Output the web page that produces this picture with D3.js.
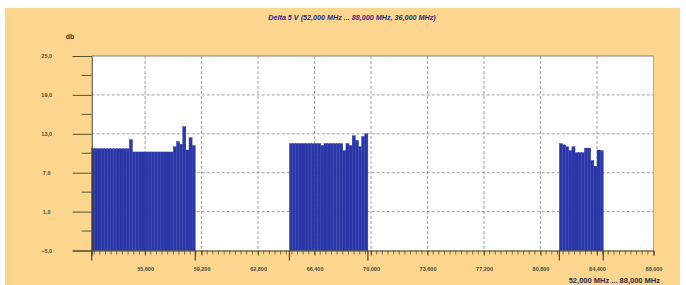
<!DOCTYPE html>
<html>
<head>
<meta charset="utf-8">
<title>Delta 5 V</title>
<script src="https://d3js.org/d3.v7.min.js"></script>
<style>
  body { margin: 0; background: #fff; }
  svg { display: block; }
  text { font-family: "Liberation Sans", Arial, sans-serif; }
</style>
</head>
<body>
<div id="chart"></div>
<script>
// bar blocks: start frequency (MHz), bar step (MHz), and levels (db)
var blockStarts = [52200, 64800, 82000];
var barStep = 200;
var block1 = [10.7, 10.7, 10.7, 10.7, 10.7, 10.7, 10.7, 10.7, 10.7, 10.7, 10.7, 10.7,
              12.1, 10.2, 10.2, 10.2, 10.2, 10.2, 10.2, 10.2, 10.2, 10.2, 10.2, 10.2,
              10.2, 10.2, 11.0, 11.8, 11.4, 14.1, 10.5, 12.4, 11.2];
var block2 = [11.5, 11.5, 11.5, 11.5, 11.5, 11.5, 11.5, 11.5, 11.5, 11.5, 11.2, 11.5,
              11.5, 11.5, 11.5, 11.5, 11.5, 10.4, 11.5, 11.2, 12.7, 12.0, 11.0, 12.6, 13.0];
var block3 = [11.5, 11.3, 11.0, 10.4, 11.0, 10.1, 10.1, 10.1, 10.8, 10.8, 8.9, 8.0, 10.5, 10.4];
var blocks = [block1, block2, block3];

var xTicks = [55600, 59200, 62800, 66400, 70000, 73600, 77200, 80800, 84400, 88000];
var yTicks = [-5, 1, 7, 13, 19, 25];
var yMinor = [-2, 4, 10, 16, 22];

var W = 686, H = 285;
var svg = d3.select("#chart").append("svg").attr("width", W).attr("height", H);

// orange background
svg.append("rect").attr("x", 5).attr("y", 8).attr("width", 675).attr("height", 277)
    .attr("fill", "#fcd68e");

var x = d3.scaleLinear().domain([52200, 88000]).range([91.7, 653.5]);
var y = d3.scaleLinear().domain([-5, 25]).range([250.5, 56]);

// plot area
svg.append("rect").attr("x", x(52200)).attr("y", y(25))
    .attr("width", x(88000) - x(52200)).attr("height", y(-5) - y(25))
    .attr("fill", "#fff");

// grid
svg.selectAll(".hgrid").data(yTicks.filter(function (d) { return d > -5 && d < 25; }))
    .enter().append("line")
    .attr("x1", x(52200)).attr("x2", x(88000))
    .attr("y1", function (d) { return y(d); }).attr("y2", function (d) { return y(d); })
    .attr("stroke", "#8a8a8a").attr("stroke-width", 0.8).attr("stroke-dasharray", "3,2");
svg.selectAll(".vgrid").data(xTicks.filter(function (d) { return d < 88000; }))
    .enter().append("line")
    .attr("x1", function (d) { return x(d); }).attr("x2", function (d) { return x(d); })
    .attr("y1", y(25)).attr("y2", y(-5))
    .attr("stroke", "#8a8a8a").attr("stroke-width", 0.8).attr("stroke-dasharray", "3,2");

// bars
var bars = [];
blocks.forEach(function (vals, b) {
  vals.forEach(function (v, i) {
    bars.push({ f: blockStarts[b] + i * barStep, v: v });
  });
});
svg.append("g").selectAll("rect").data(bars).enter().append("rect")
    .attr("x", function (d) { return x(d.f); })
    .attr("width", function (d) { return x(d.f + barStep) - x(d.f); })
    .attr("y", function (d) { return y(d.v); })
    .attr("height", function (d) { return y(-5) - y(d.v); })
    .attr("fill", "#2a35a6")
    .attr("stroke", "#3444b6").attr("stroke-width", 0.4);

// frame
svg.append("line").attr("x1", x(52200)).attr("x2", x(88000)).attr("y1", y(25)).attr("y2", y(25))
    .attr("stroke", "#666").attr("stroke-width", 0.8);
svg.append("line").attr("x1", x(88000)).attr("x2", x(88000)).attr("y1", y(25)).attr("y2", y(-5))
    .attr("stroke", "#999").attr("stroke-width", 0.8);

// y axis
var yAxis = svg.append("g").attr("transform", "translate(" + x(52200) + ",0)")
    .call(d3.axisLeft(y).tickValues(yTicks).tickSize(19).tickPadding(21)
      .tickFormat(function (d) { return d3.format(".1f")(d).replace(".", ","); }));
svg.append("g").selectAll("line").data(yMinor).enter().append("line")
    .attr("x1", x(52200) - 10).attr("x2", x(52200))
    .attr("y1", function (d) { return y(d); }).attr("y2", function (d) { return y(d); })
    .attr("stroke", "#55552f").attr("stroke-width", 1);

// x axis
var xAxis = svg.append("g").attr("transform", "translate(0," + y(-5) + ")")
    .call(d3.axisBottom(x).tickValues(xTicks).tickSize(5).tickPadding(12)
      .tickFormat(function (d) { return d3.format(",")(d); }));
var minor = d3.range(52360, 88000, 360);
svg.append("g").selectAll("line").data(minor).enter().append("line")
    .attr("x1", function (d) { return x(d); }).attr("x2", function (d) { return x(d); })
    .attr("y1", y(-5)).attr("y2", y(-5) + 4)
    .attr("stroke", "#55552f").attr("stroke-width", 0.8);
// block edge markers
var edges = [];
blocks.forEach(function (vals, b) {
  edges.push(blockStarts[b]);
  edges.push(blockStarts[b] + vals.length * barStep);
});
svg.append("g").selectAll("line").data(edges).enter().append("line")
    .attr("x1", function (d) { return x(d); }).attr("x2", function (d) { return x(d); })
    .attr("y1", y(-5)).attr("y2", y(-5) + 10)
    .attr("stroke", "#444").attr("stroke-width", 1.2);

[xAxis, yAxis].forEach(function (a) {
  a.select(".domain").attr("stroke", "#3a3a2a").attr("stroke-width", 1);
  a.selectAll(".tick line").attr("stroke", "#55552f");
  a.selectAll(".tick text").attr("fill", "#4a4a3a").style("font-size", "5.5px")
      .style("font-weight", "bold");
});
yAxis.selectAll(".tick text").attr("text-anchor", "middle").attr("dx", "-5");

// texts
svg.append("text").attr("x", 352).attr("y", 20).attr("text-anchor", "middle")
    .attr("fill", "#2a2a8c").style("font-size", "7.2px").style("font-weight", "bold")
    .style("font-style", "italic")
    .text("Delta 5 V (52,000 MHz ... 88,000 MHz, 36,000 MHz)");
svg.append("text").attr("x", 70).attr("y", 39).attr("text-anchor", "middle")
    .attr("fill", "#3a3a2a").style("font-size", "7px").style("font-weight", "bold")
    .text("db");
svg.append("text").attr("x", 660).attr("y", 283).attr("text-anchor", "end")
    .attr("fill", "#2a2a4a").style("font-size", "7.5px").style("font-weight", "bold")
    .text("52,000 MHz ... 88,000 MHz");
</script>
</body>
</html>
